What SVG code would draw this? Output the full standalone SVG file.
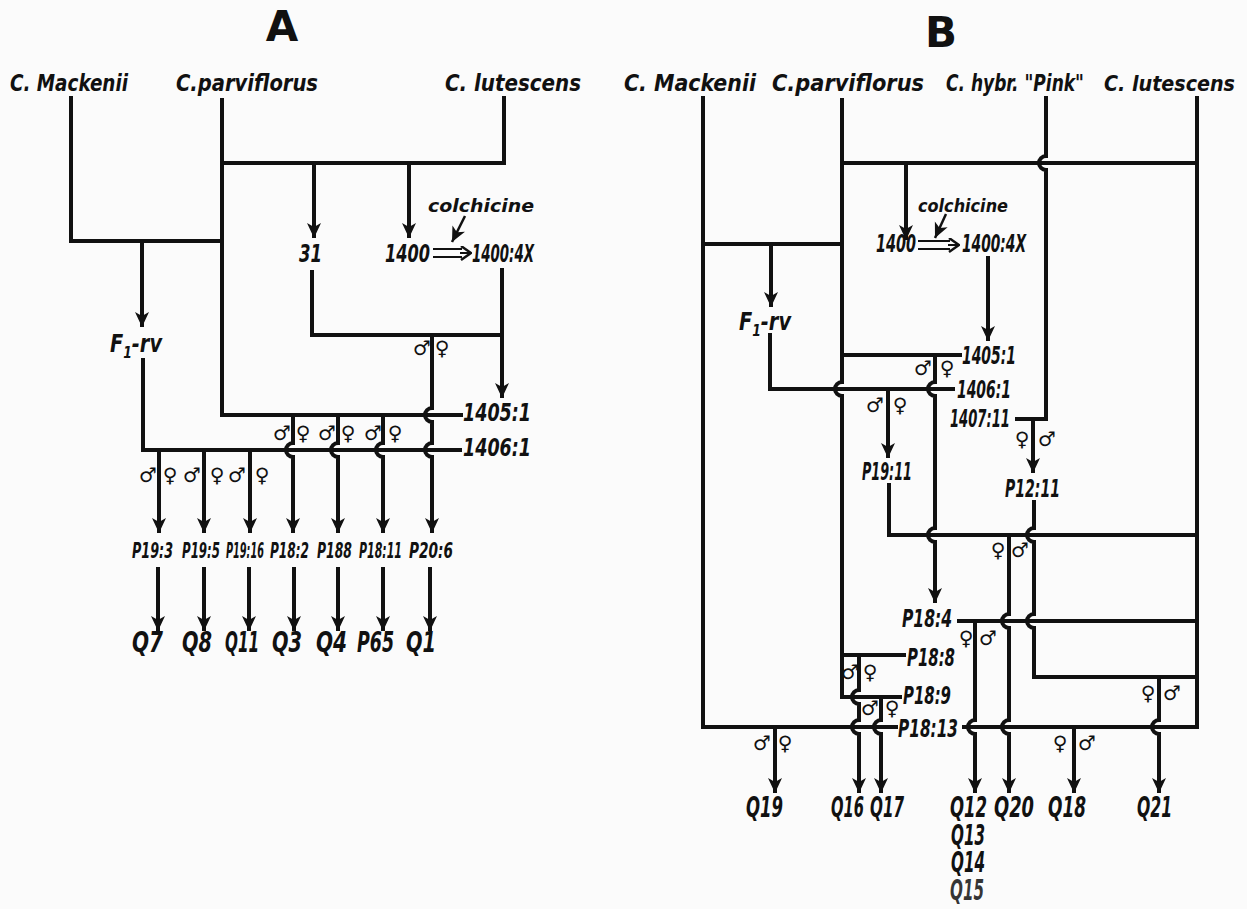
<svg xmlns="http://www.w3.org/2000/svg" width="1247" height="909" viewBox="0 0 1247 909">
<style>
.ln{stroke:#111;stroke-width:4;fill:none;stroke-linejoin:miter}
.ar{stroke:#111;stroke-width:4;fill:none;marker-end:url(#ah)}
.th{stroke:#111;stroke-width:2;fill:none}
.t{font-family:"DejaVu Sans Condensed","DejaVu Sans",sans-serif;font-style:italic;font-weight:bold;fill:#111}
.sp{font-size:23px}
.lb{font-size:25px}
.pl{font-size:22px}
.q{font-size:28px}
.sm{font-size:18px}
.ttl{font-family:"DejaVu Sans",sans-serif;font-weight:bold;font-size:42px;fill:#111;text-anchor:middle}
.sx{font-family:"DejaVu Sans",sans-serif;font-weight:bold;font-size:20px;fill:#111;text-anchor:middle}
</style>
<defs>
<marker id="ah" markerUnits="userSpaceOnUse" markerWidth="16" markerHeight="16" refX="15" refY="7" orient="auto">
<path d="M0,0 L15,7 L0,14 L4,7 z" fill="#111"/>
</marker>
<marker id="oh" markerUnits="userSpaceOnUse" markerWidth="12" markerHeight="16" refX="11" refY="7" orient="auto">
<path d="M1,0 L11,7 L1,14" fill="none" stroke="#111" stroke-width="2.5"/>
</marker>
</defs>
<rect width="1247" height="909" fill="#fbfbfb"/>

<g id="connectors">
<!-- Panel A -->
<path class="ln" d="M71,96 V241 H222"/>
<path class="ln" d="M222,98 V415 H463"/>
<path class="ln" d="M504,96 V163 H222"/>
<path class="ar" d="M314,163 V238"/>
<path class="ar" d="M409,163 V238"/>
<path class="ln" d="M312,270 V335 H502"/>
<path class="ar" d="M502,268 V398"/>
<path class="ar" d="M432,335 V408 a7,7 0 0 0 0,14 V443 a7,7 0 0 0 0,14 V533"/>
<path class="ln" d="M143,358 V450 H462"/>
<path class="ar" d="M142,241 V327"/>
<path class="ar" d="M159,450 V533"/>
<path class="ar" d="M204,450 V533"/>
<path class="ar" d="M250,450 V533"/>
<path class="ar" d="M293,415 V443 a7,7 0 0 0 0,14 V533"/>
<path class="ar" d="M338,415 V443 a7,7 0 0 0 0,14 V533"/>
<path class="ar" d="M383,415 V443 a7,7 0 0 0 0,14 V533"/>
<path class="ar" d="M158,567 V631"/>
<path class="ar" d="M204,567 V631"/>
<path class="ar" d="M249,567 V631"/>
<path class="ar" d="M294,567 V631"/>
<path class="ar" d="M338,567 V631"/>
<path class="ar" d="M383,567 V631"/>
<path class="ar" d="M430,567 V631"/>
<path class="th" d="M433,249 H462 M433,257 H462"/>
<path class="th" d="M460,253 H471" marker-end="url(#oh)"/>
<path class="th" d="M465,216 L452,242" marker-end="url(#ah)" style="stroke-width:2.5"/>

<!-- Panel B -->
<path class="ln" d="M703,96 V727 H898"/>
<path class="ln" d="M703,244 H842"/>
<path class="ln" d="M842,98 V382 a7,7 0 0 0 0,14 V697 H902"/>
<path class="ln" d="M842,163 H1197"/>
<path class="ln" d="M842,355 H962"/>
<path class="ln" d="M842,655 H906"/>
<path class="ln" d="M1046,96 V156 a7,7 0 0 0 0,14 V419 H1015"/>
<path class="ln" d="M1197,96 V727 H962"/>
<path class="ar" d="M906,163 V240"/>
<path class="ar" d="M988,256 V341"/>
<path class="ar" d="M771,244 V307"/>
<path class="ln" d="M770,333 V389 H955"/>
<path class="ar" d="M935,355 V382 a7,7 0 0 0 0,14 V528 a7,7 0 0 0 0,14 V603"/>
<path class="ar" d="M888,389 V458"/>
<path class="ln" d="M889,483 V535 H1197"/>
<path class="ar" d="M1033,419 V473"/>
<path class="ln" d="M1034,500 V528 a7,7 0 0 0 0,14 V614 a7,7 0 0 0 0,14 V677 H1197"/>
<path class="ar" d="M1009,535 V614 a7,7 0 0 0 0,14 V720 a7,7 0 0 0 0,14 V793"/>
<path class="ln" d="M957,621 H1197"/>
<path class="ar" d="M975,621 V720 a7,7 0 0 0 0,14 V793"/>
<path class="ar" d="M1159,677 V720 a7,7 0 0 0 0,14 V793"/>
<path class="ar" d="M1074,727 V793"/>
<path class="ar" d="M775,727 V793"/>
<path class="ar" d="M859,655 V690 a7,7 0 0 0 0,14 V720 a7,7 0 0 0 0,14 V793"/>
<path class="ar" d="M881,697 V720 a7,7 0 0 0 0,14 V793"/>
<path class="th" d="M918,241 H950 M918,249 H950"/>
<path class="th" d="M948,245 H959" marker-end="url(#oh)"/>
<path class="th" d="M946,214 L935,238" marker-end="url(#ah)" style="stroke-width:2.5"/>
</g>

<g id="title-A"><text class="ttl" x="282" y="41">A</text></g>
<g id="title-B"><text class="ttl" x="941" y="47">B</text></g>

<!-- Panel A nodes -->
<g id="A-mackenii"><text class="t sp" x="10" y="91" textLength="118" lengthAdjust="spacingAndGlyphs">C. Mackenii</text></g>
<g id="A-parviflorus"><text class="t sp" x="176" y="91" textLength="142" lengthAdjust="spacingAndGlyphs">C.parviflorus</text></g>
<g id="A-lutescens"><text class="t sp" x="445" y="91" textLength="136" lengthAdjust="spacingAndGlyphs">C. lutescens</text></g>
<g id="A-colchicine"><text class="t sm" x="428" y="212" textLength="106" lengthAdjust="spacingAndGlyphs">colchicine</text></g>
<g id="A-31"><text class="t lb" x="299" y="262" textLength="23" lengthAdjust="spacingAndGlyphs">31</text></g>
<g id="A-1400"><text class="t lb" x="385" y="262" textLength="45" lengthAdjust="spacingAndGlyphs">1400</text></g>
<g id="A-1400-4X"><text class="t lb" x="472" y="262" textLength="62" lengthAdjust="spacingAndGlyphs">1400:4X</text></g>
<g id="A-F1rv"><text class="t lb" x="110" y="352" textLength="52" lengthAdjust="spacingAndGlyphs">F<tspan font-size="16" dy="6">1</tspan><tspan dy="-6">-rv</tspan></text></g>
<g id="A-1405-1"><text class="t lb" x="463" y="421" textLength="68" lengthAdjust="spacingAndGlyphs">1405:1</text></g>
<g id="A-1406-1"><text class="t lb" x="463" y="456" textLength="68" lengthAdjust="spacingAndGlyphs">1406:1</text></g>
<g id="A-P19-3"><text class="t pl" x="132" y="558" textLength="41" lengthAdjust="spacingAndGlyphs">P19:3</text></g>
<g id="A-P19-5"><text class="t pl" x="182" y="558" textLength="38" lengthAdjust="spacingAndGlyphs">P19:5</text></g>
<g id="A-P19-16"><text class="t pl" x="226" y="558" textLength="38" lengthAdjust="spacingAndGlyphs">P19:16</text></g>
<g id="A-P18-2"><text class="t pl" x="270" y="558" textLength="39" lengthAdjust="spacingAndGlyphs">P18:2</text></g>
<g id="A-P18-8"><text class="t pl" x="317" y="558" textLength="35" lengthAdjust="spacingAndGlyphs">P188</text></g>
<g id="A-P18-11"><text class="t pl" x="359" y="558" textLength="43" lengthAdjust="spacingAndGlyphs">P18:11</text></g>
<g id="A-P20-6"><text class="t pl" x="409" y="558" textLength="44" lengthAdjust="spacingAndGlyphs">P20:6</text></g>
<g id="A-Q7"><text class="t q" x="132" y="652" textLength="31" lengthAdjust="spacingAndGlyphs">Q7</text></g>
<g id="A-Q8"><text class="t q" x="182" y="652" textLength="30" lengthAdjust="spacingAndGlyphs">Q8</text></g>
<g id="A-Q11"><text class="t q" x="225" y="652" textLength="34" lengthAdjust="spacingAndGlyphs">Q11</text></g>
<g id="A-Q3"><text class="t q" x="272" y="652" textLength="30" lengthAdjust="spacingAndGlyphs">Q3</text></g>
<g id="A-Q4"><text class="t q" x="316" y="652" textLength="31" lengthAdjust="spacingAndGlyphs">Q4</text></g>
<g id="A-P65"><text class="t q" x="357" y="652" textLength="37" lengthAdjust="spacingAndGlyphs">P65</text></g>
<g id="A-Q1"><text class="t q" x="406" y="652" textLength="30" lengthAdjust="spacingAndGlyphs">Q1</text></g>
<g id="A-sex">
<text class="sx" x="422" y="355">♂</text><text class="sx" x="442" y="355">♀</text>
<text class="sx" x="282" y="440">♂</text><text class="sx" x="303" y="440">♀</text>
<text class="sx" x="327" y="440">♂</text><text class="sx" x="348" y="440">♀</text>
<text class="sx" x="373" y="440">♂</text><text class="sx" x="395" y="440">♀</text>
<text class="sx" x="148" y="482">♂</text><text class="sx" x="170" y="482">♀</text>
<text class="sx" x="192" y="482">♂</text><text class="sx" x="217" y="482">♀</text>
<text class="sx" x="237" y="482">♂</text><text class="sx" x="262" y="482">♀</text>
</g>

<!-- Panel B nodes -->
<g id="B-mackenii"><text class="t sp" x="624" y="91" textLength="132" lengthAdjust="spacingAndGlyphs">C. Mackenii</text></g>
<g id="B-parviflorus"><text class="t sp" x="772" y="91" textLength="152" lengthAdjust="spacingAndGlyphs">C.parviflorus</text></g>
<g id="B-pink"><text class="t sp" x="946" y="91" textLength="138" lengthAdjust="spacingAndGlyphs">C. hybr. "Pink"</text></g>
<g id="B-lutescens"><text class="t" font-size="21" x="1104" y="91" textLength="131" lengthAdjust="spacingAndGlyphs">C. lutescens</text></g>
<g id="B-colchicine"><text class="t sm" x="918" y="212" textLength="90" lengthAdjust="spacingAndGlyphs">colchicine</text></g>
<g id="B-1400"><text class="t lb" x="876" y="252" textLength="40" lengthAdjust="spacingAndGlyphs">1400</text></g>
<g id="B-1400-4X"><text class="t lb" x="962" y="252" textLength="64" lengthAdjust="spacingAndGlyphs">1400:4X</text></g>
<g id="B-F1rv"><text class="t lb" x="739" y="330" textLength="52" lengthAdjust="spacingAndGlyphs">F<tspan font-size="16" dy="6">1</tspan><tspan dy="-6">-rv</tspan></text></g>
<g id="B-1405-1"><text class="t lb" x="962" y="364" textLength="54" lengthAdjust="spacingAndGlyphs">1405:1</text></g>
<g id="B-1406-1"><text class="t lb" x="957" y="398" textLength="54" lengthAdjust="spacingAndGlyphs">1406:1</text></g>
<g id="B-1407-11"><text class="t lb" x="950" y="427" textLength="60" lengthAdjust="spacingAndGlyphs">1407:11</text></g>
<g id="B-P19-11"><text class="t lb" x="862" y="480" textLength="50" lengthAdjust="spacingAndGlyphs">P19:11</text></g>
<g id="B-P12-11"><text class="t lb" x="1005" y="497" textLength="55" lengthAdjust="spacingAndGlyphs">P12:11</text></g>
<g id="B-P18-4"><text class="t lb" x="902" y="627" textLength="50" lengthAdjust="spacingAndGlyphs">P18:4</text></g>
<g id="B-P18-8"><text class="t lb" x="907" y="666" textLength="48" lengthAdjust="spacingAndGlyphs">P18:8</text></g>
<g id="B-P18-9"><text class="t lb" x="903" y="704" textLength="48" lengthAdjust="spacingAndGlyphs">P18:9</text></g>
<g id="B-P18-13"><text class="t lb" x="898" y="737" textLength="60" lengthAdjust="spacingAndGlyphs">P18:13</text></g>
<g id="B-Q19"><text class="t q" x="746" y="817" textLength="37" lengthAdjust="spacingAndGlyphs">Q19</text></g>
<g id="B-Q16"><text class="t q" x="831" y="817" textLength="33" lengthAdjust="spacingAndGlyphs">Q16</text></g>
<g id="B-Q17"><text class="t q" x="870" y="817" textLength="34" lengthAdjust="spacingAndGlyphs">Q17</text></g>
<g id="B-Q12"><text class="t q" x="950" y="817" textLength="37" lengthAdjust="spacingAndGlyphs">Q12</text></g>
<g id="B-Q20"><text class="t q" x="994" y="817" textLength="40" lengthAdjust="spacingAndGlyphs">Q20</text></g>
<g id="B-Q18"><text class="t q" x="1048" y="817" textLength="38" lengthAdjust="spacingAndGlyphs">Q18</text></g>
<g id="B-Q21"><text class="t q" x="1137" y="817" textLength="35" lengthAdjust="spacingAndGlyphs">Q21</text></g>
<g id="B-Q13"><text class="t q" x="951" y="845" textLength="34" lengthAdjust="spacingAndGlyphs">Q13</text></g>
<g id="B-Q14"><text class="t q" x="951" y="872" textLength="34" lengthAdjust="spacingAndGlyphs">Q14</text></g>
<g id="B-Q15"><text class="t q" x="950" y="900" textLength="34" lengthAdjust="spacingAndGlyphs" fill-opacity="0.85">Q15</text></g>
<g id="B-sex">
<text class="sx" x="923" y="375">♂</text><text class="sx" x="947" y="375">♀</text>
<text class="sx" x="875" y="412">♂</text><text class="sx" x="900" y="412">♀</text>
<text class="sx" x="1022" y="446">♀</text><text class="sx" x="1047" y="446">♂</text>
<text class="sx" x="998" y="557">♀</text><text class="sx" x="1020" y="557">♂</text>
<text class="sx" x="966" y="645">♀</text><text class="sx" x="988" y="645">♂</text>
<text class="sx" x="850" y="679">♂</text><text class="sx" x="870" y="679">♀</text>
<text class="sx" x="870" y="715">♂</text><text class="sx" x="892" y="715">♀</text>
<text class="sx" x="1148" y="700">♀</text><text class="sx" x="1172" y="700">♂</text>
<text class="sx" x="762" y="750">♂</text><text class="sx" x="785" y="750">♀</text>
<text class="sx" x="1060" y="750">♀</text><text class="sx" x="1087" y="750">♂</text>
</g>
</svg>
